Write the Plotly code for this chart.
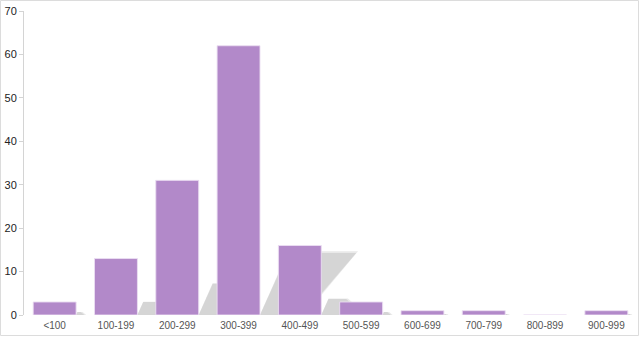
import plotly.graph_objects as go

categories = ["<100", "100-199", "200-299", "300-399", "400-499",
              "500-599", "600-699", "700-799", "800-899", "900-999"]
counts = [3, 13, 31, 62, 16, 3, 1, 1, 0, 1]
y_ticks = [0, 10, 20, 30, 40, 50, 60, 70]

W, H = 640, 337
ML, MR, MT, MB = 24, 3, 11, 22
BAR_W = 0.7
SH_S, SH_C1, SH_C2, SH_B = 0.23, 0.00737, 0.0253, 0.045

xs = list(range(len(categories)))
fig = go.Figure()

fig.add_trace(go.Bar(
    x=xs, y=counts, width=BAR_W,
    marker=dict(color="#b289c9", line=dict(color="rgba(235,222,242,0.9)", width=1)),
    showlegend=False))

# soft cast shadows behind the bars, derived from the counts
for x, h in zip(xs, counts):
    if h <= 0:
        continue
    xr = x + BAR_W / 2
    top = SH_S * h
    base = min(BAR_W, SH_B * h)
    for grow, col in ((0.03, "rgba(224,224,224,0.7)"), (0.0, "rgba(211,211,211,0.9)")):
        path = (f"M {xr:.4f},0 L {xr + base + grow:.4f},0 "
                f"L {xr + SH_C2 * h + grow:.4f},{top * (1 + grow):.4f} "
                f"L {xr + SH_C1 * h:.4f},{top * (1 + grow):.4f} Z")
        fig.add_shape(type="path", path=path, xref="x", yref="y",
                      fillcolor=col, line=dict(width=0), layer="below")

pw = W - ML - MR
ph = H - MT - MB
fig.add_shape(type="rect", xref="paper", yref="paper",
              x0=-(ML - 0.5) / pw, x1=1 + (MR - 1.5) / pw,
              y0=-(MB - 1.5) / ph, y1=1 + (MT - 0.5) / ph,
              line=dict(color="#dcdcdc", width=1), fillcolor="rgba(0,0,0,0)",
              layer="below")

fig.update_layout(
    width=W, height=H,
    margin=dict(l=ML, r=MR, t=MT, b=MB, pad=0),
    paper_bgcolor="white", plot_bgcolor="white",
    font=dict(family="Liberation Sans, Arial, sans-serif", size=11, color="#333"),
    xaxis=dict(range=[-0.5, len(categories) - 0.5], tickvals=xs, ticktext=categories,
               showgrid=False, zeroline=False, showline=False, ticks="",
               ticklabelstandoff=3,
               tickfont=dict(size=10, color="#555"), fixedrange=True),
    yaxis=dict(range=[0, 70], tickvals=y_ticks, showgrid=False, zeroline=False,
               showline=True, linecolor="#d4d4d4", linewidth=1,
               ticks="outside", ticklen=4, tickcolor="#d4d4d4",
               tickfont=dict(size=11, color="#222"), fixedrange=True),
    bargap=0.3,
)

fig.write_html("out.html")
